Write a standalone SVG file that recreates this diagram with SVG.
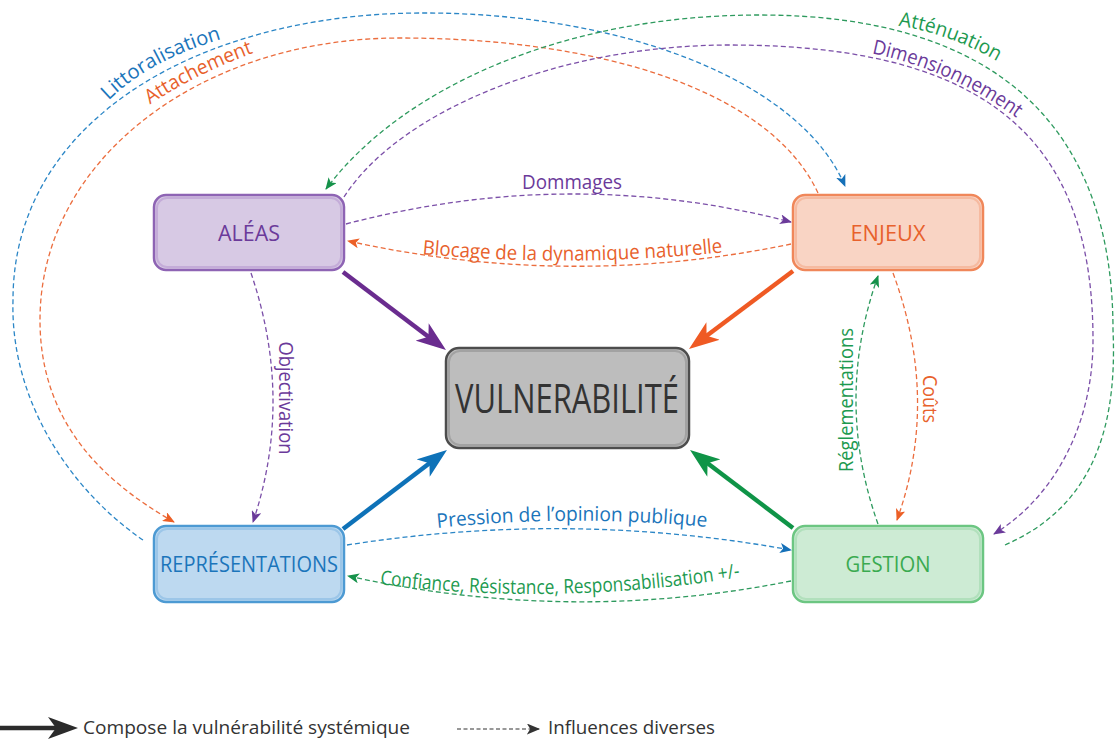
<svg xmlns="http://www.w3.org/2000/svg" width="1116" height="740" viewBox="0 0 1116 740">
<style>
.t{font-family:"Open Sans","Noto Sans","Liberation Sans",sans-serif}
.lab{font-size:20px}
.nl{font-size:22px}
.d{fill:none;stroke-width:1.3;stroke-dasharray:5 3}
.dp{stroke:#7b4fa8}.do{stroke:#eb6d3e}.db{stroke:#2b86c6}.dg{stroke:#2e9a5e}
.cp{fill:#6b3a9a}.co{fill:#e8612c}.cb{fill:#1b75bb}.cg{fill:#1d9a50}
.thick{fill:none;stroke-width:4.5}
</style>
<defs>
<marker id="hp" viewBox="0 0 12 10" refX="11" refY="5" markerWidth="12" markerHeight="10" markerUnits="userSpaceOnUse" orient="auto"><path d="M0,0 L12,5 L0,10 L3,5Z" fill="#6b3a9a"/></marker>
<marker id="ho" viewBox="0 0 12 10" refX="11" refY="5" markerWidth="12" markerHeight="10" markerUnits="userSpaceOnUse" orient="auto"><path d="M0,0 L12,5 L0,10 L3,5Z" fill="#ec5f26"/></marker>
<marker id="hb" viewBox="0 0 12 10" refX="11" refY="5" markerWidth="12" markerHeight="10" markerUnits="userSpaceOnUse" orient="auto"><path d="M0,0 L12,5 L0,10 L3,5Z" fill="#1570b8"/></marker>
<marker id="hg" viewBox="0 0 12 10" refX="11" refY="5" markerWidth="12" markerHeight="10" markerUnits="userSpaceOnUse" orient="auto"><path d="M0,0 L12,5 L0,10 L3,5Z" fill="#15924a"/></marker>
<marker id="hk" viewBox="0 0 12 10" refX="11" refY="5" markerWidth="14" markerHeight="11" markerUnits="userSpaceOnUse" orient="auto"><path d="M0,0 L12,5 L0,10 L3,5Z" fill="#333"/></marker>
<marker id="Bp" viewBox="0 0 30 22" refX="20" refY="11" markerWidth="30" markerHeight="22" markerUnits="userSpaceOnUse" orient="auto"><path d="M0,0 L30,11 L0,22 L8,11Z" fill="#6a2c8f"/></marker>
<marker id="Bo" viewBox="0 0 30 22" refX="20" refY="11" markerWidth="30" markerHeight="22" markerUnits="userSpaceOnUse" orient="auto"><path d="M0,0 L30,11 L0,22 L8,11Z" fill="#ef5a24"/></marker>
<marker id="Bb" viewBox="0 0 30 22" refX="20" refY="11" markerWidth="30" markerHeight="22" markerUnits="userSpaceOnUse" orient="auto"><path d="M0,0 L30,11 L0,22 L8,11Z" fill="#0e72b8"/></marker>
<marker id="Bg" viewBox="0 0 30 22" refX="20" refY="11" markerWidth="30" markerHeight="22" markerUnits="userSpaceOnUse" orient="auto"><path d="M0,0 L30,11 L0,22 L8,11Z" fill="#0f9447"/></marker>
<marker id="Bk" viewBox="0 0 30 22" refX="20" refY="11" markerWidth="30" markerHeight="22" markerUnits="userSpaceOnUse" orient="auto"><path d="M0,0 L30,11 L0,22 L8,11Z" fill="#2b2b2b"/></marker>
<path id="pLit" d="M106,103 Q148,60 225,38"/>
<path id="pAtt" d="M148,106 Q193,75 256,52"/>
<path id="pAtn" d="M893,25 Q948,32 1002,64"/>
<path id="pDim" d="M870,53 Q950,69 1018,119"/>
<path id="pBlo" d="M400,252 Q570,270 745,250"/>
<path id="pPre" d="M437,528 Q572,514 707,527"/>
<path id="pCon" d="M378,584 Q555,607 742,577"/>
</defs>

<g id="connectors">
  <!-- thick arrows -->
  <path class="thick" stroke="#6a2c8f" d="M343,272 L438,344" marker-end="url(#Bp)"/>
  <path class="thick" stroke="#ef5a24" d="M793,271 L697,343" marker-end="url(#Bo)"/>
  <path class="thick" stroke="#0e72b8" d="M343,529 L439,456" marker-end="url(#Bb)"/>
  <path class="thick" stroke="#0f9447" d="M793,528 L698,456" marker-end="url(#Bg)"/>
  <!-- dashed influences -->
  <path class="d dp" d="M346,224 Q570,165 791,222" marker-end="url(#hp)"/>
  <path class="d do" d="M791,244 Q570,290 348,241" marker-end="url(#ho)"/>
  <path class="d dp" d="M251,273 Q294,400 253,522" marker-end="url(#hp)"/>
  <path class="d do" d="M893,273 Q940,400 897,520" marker-end="url(#ho)"/>
  <path class="d dg" d="M878,524 Q834,400 878,276" marker-end="url(#hg)"/>
  <path class="d db" d="M347,545 Q570,510 791,550" marker-end="url(#hb)"/>
  <path class="d dg" d="M791,581 Q570,625 348,576" marker-end="url(#hg)"/>
  <path class="d db" d="M143,540 C70,490 10,400 13,300 C13,120 200,14 420,13 C620,12 800,80 845,186" marker-end="url(#hb)"/>
  <path class="d do" d="M818,193 C770,90 600,38 400,38 C200,38 40,160 40,320 C40,420 100,480 174,522" marker-end="url(#ho)"/>
  <path class="d dg" d="M1005,545 C1085,510 1118,440 1113,330 C1113,130 1000,15 760,15 C560,15 400,90 326,189" marker-end="url(#hg)"/>
  <path class="d dp" d="M344,197 C400,110 560,45 730,45 C1000,45 1093,150 1093,340 C1093,430 1050,500 994,534" marker-end="url(#hp)"/>
  <!-- labels -->
  <text class="t lab cp" x="572" y="189" text-anchor="middle" textLength="100" lengthAdjust="spacingAndGlyphs">Dommages</text>
  <text class="t lab co"><textPath href="#pBlo" startOffset="50%" text-anchor="middle" textLength="301" lengthAdjust="spacingAndGlyphs">Blocage de la dynamique naturelle</textPath></text>
  <text class="t lab cp" transform="translate(279,398) rotate(90)" text-anchor="middle" textLength="113" lengthAdjust="spacingAndGlyphs">Objectivation</text>
  <text class="t lab co" transform="translate(923,399) rotate(90)" text-anchor="middle" textLength="48" lengthAdjust="spacingAndGlyphs">Coûts</text>
  <text class="t lab cg" transform="translate(853,400) rotate(-90)" text-anchor="middle" textLength="144" lengthAdjust="spacingAndGlyphs">Réglementations</text>
  <text class="t lab cb"><textPath href="#pPre" startOffset="50%" text-anchor="middle" textLength="270" lengthAdjust="spacingAndGlyphs">Pression de l’opinion publique</textPath></text>
  <text class="t lab cg"><textPath href="#pCon" startOffset="50%" text-anchor="middle" textLength="362" lengthAdjust="spacingAndGlyphs">Confiance, Résistance, Responsabilisation +/-</textPath></text>
  <text class="t lab cb"><textPath href="#pLit" startOffset="50%" text-anchor="middle" textLength="130" lengthAdjust="spacingAndGlyphs">Littoralisation</textPath></text>
  <text class="t lab co"><textPath href="#pAtt" startOffset="50%" text-anchor="middle" textLength="116" lengthAdjust="spacingAndGlyphs">Attachement</textPath></text>
  <text class="t lab cg"><textPath href="#pAtn" startOffset="50%" text-anchor="middle" textLength="106" lengthAdjust="spacingAndGlyphs">Atténuation</textPath></text>
  <text class="t lab cp"><textPath href="#pDim" startOffset="50%" text-anchor="middle" textLength="160" lengthAdjust="spacingAndGlyphs">Dimensionnement</textPath></text>
</g>

<g id="aleas">
  <rect x="154" y="195" width="190" height="75" rx="12" fill="#d7c9e4" stroke="#8e64b4" stroke-width="2.5"/>
  <rect x="157" y="198" width="184" height="69" rx="10" fill="none" stroke="#b79ad0" stroke-width="2" opacity="0.6"/>
  <text class="t nl cp" x="249" y="241" text-anchor="middle" textLength="62" lengthAdjust="spacingAndGlyphs">ALÉAS</text>
</g>
<g id="enjeux">
  <rect x="793" y="195" width="190" height="75" rx="12" fill="#f9d4c4" stroke="#f0875a" stroke-width="2.5"/>
  <rect x="796" y="198" width="184" height="69" rx="10" fill="none" stroke="#f4a888" stroke-width="2" opacity="0.6"/>
  <text class="t nl co" x="888" y="241" text-anchor="middle" textLength="75" lengthAdjust="spacingAndGlyphs">ENJEUX</text>
</g>
<g id="vulnerabilite">
  <rect x="446" y="348" width="243" height="100" rx="13" fill="#bdbdbd" stroke="#4d4d4d" stroke-width="2.5"/>
  <rect x="449" y="351" width="237" height="94" rx="11" fill="none" stroke="#8f8f8f" stroke-width="2" opacity="0.6"/>
  <text class="t" x="567" y="413" font-size="40" fill="#333" text-anchor="middle" textLength="224" lengthAdjust="spacingAndGlyphs">VULNERABILITÉ</text>
</g>
<g id="representations">
  <rect x="154" y="526" width="190" height="76" rx="12" fill="#bdd9f0" stroke="#4d9ad3" stroke-width="2.5"/>
  <rect x="157" y="529" width="184" height="70" rx="10" fill="none" stroke="#86b9e2" stroke-width="2" opacity="0.6"/>
  <text class="t nl cb" x="249" y="572" text-anchor="middle" textLength="178" lengthAdjust="spacingAndGlyphs">REPRÉSENTATIONS</text>
</g>
<g id="gestion">
  <rect x="793" y="526" width="190" height="76" rx="12" fill="#cdebd4" stroke="#6cc682" stroke-width="2.5"/>
  <rect x="796" y="529" width="184" height="70" rx="10" fill="none" stroke="#9ed8ab" stroke-width="2" opacity="0.6"/>
  <text class="t nl" fill="#3aaa50" x="888" y="572" text-anchor="middle" textLength="85" lengthAdjust="spacingAndGlyphs">GESTION</text>
</g>

<g id="legend">
  <path class="thick" stroke="#2b2b2b" d="M0,728 L68,728" marker-end="url(#Bk)"/>
  <text class="t" x="83" y="734" font-size="18" fill="#333" textLength="327" lengthAdjust="spacingAndGlyphs">Compose la vulnérabilité systémique</text>
  <path d="M457,729 L539,729" fill="none" stroke="#333" stroke-width="1.2" stroke-dasharray="4 2.5" marker-end="url(#hk)"/>
  <text class="t" x="548" y="734" font-size="18" fill="#333" textLength="167" lengthAdjust="spacingAndGlyphs">Influences diverses</text>
</g>
</svg>
